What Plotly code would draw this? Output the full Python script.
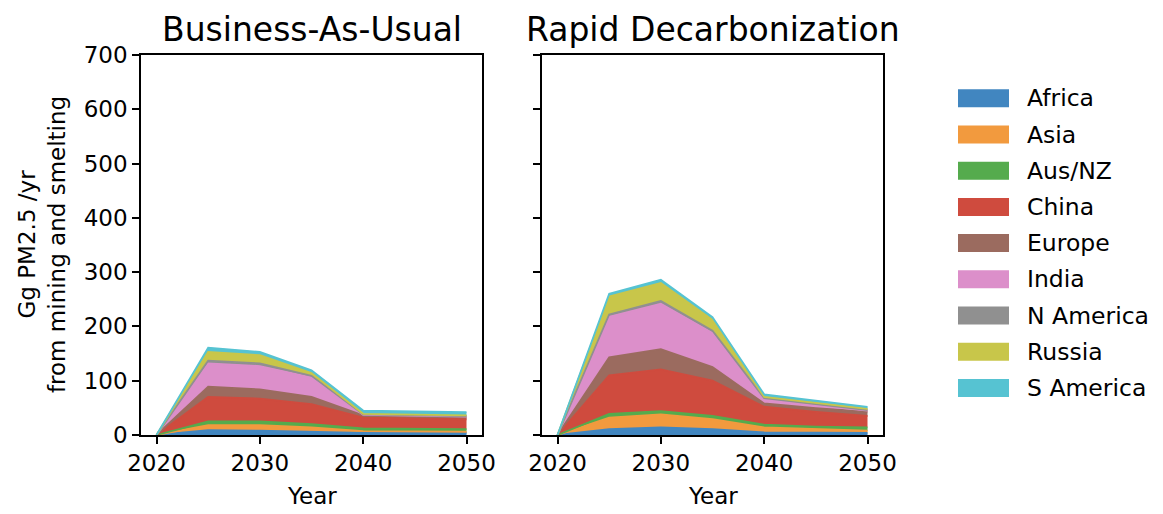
import plotly.graph_objects as go

years = [2020, 2025, 2030, 2035, 2040, 2045, 2050]
regions = ["Africa", "Asia", "Aus/NZ", "China", "Europe", "India", "N America", "Russia", "S America"]
# colours as seen in the reference (tab10, slightly translucent)
region_colors = ["#4186c0", "#f29a3e", "#55ab4d", "#cf4b3e", "#9b6b5f", "#dc8fca", "#909090", "#c8c64a", "#56c3d2"]

bau = {
    "Africa":    [0, 9, 8, 6, 4, 4, 4],
    "Asia":      [0, 9, 10, 8, 3, 2.5, 2],
    "Aus/NZ":    [0, 7, 7, 6, 5, 5, 5],
    "China":     [0, 45, 42, 37, 20, 19.5, 18],
    "Europe":    [0, 19, 17, 13, 4, 3, 3.5],
    "India":     [0, 43, 43, 36, 1, 1.5, 1.5],
    "N America": [0, 5, 5, 3, 1, 1, 1],
    "Russia":    [0, 16, 15, 5, 1, 1, 1],
    "S America": [0, 8, 6, 5, 6, 6.5, 6],
}
rapid = {
    "Africa":    [0, 11, 14, 11, 5, 4.5, 4],
    "Asia":      [0, 21, 24, 18, 9, 6, 4],
    "Aus/NZ":    [0, 7, 6, 6, 5, 5, 6],
    "China":     [0, 71, 77, 65, 33, 27, 21],
    "Europe":    [0, 33, 37, 25, 6, 7, 8],
    "India":     [0, 75, 84, 63, 8, 5, 2],
    "N America": [0, 4, 5, 4, 2, 2, 1],
    "Russia":    [0, 33, 33, 20, 2, 2, 2],
    "S America": [0, 5, 6, 5, 5, 5, 4],
}
titles = ["Business-As-Usual", "Rapid Decarbonization"]
y_ticks = [0, 100, 200, 300, 400, 500, 600, 700]
x_ticks = [2020, 2030, 2040, 2050]

W, H = 1163, 514
OFF = 8  # default page body margin


def PX(x):
    return (x - OFF) / W


def PY(y):
    return 1 - (y - OFF) / H


FONT = "DejaVu Sans"
TICK = 23
fig = go.Figure()

for i, (data, grp) in enumerate([(bau, "bau"), (rapid, "rd")]):
    ax = "" if i == 0 else "2"
    for reg, col in zip(regions, region_colors):
        fig.add_trace(go.Scatter(
            x=years, y=data[reg], stackgroup=grp, mode="lines",
            line=dict(color=col, width=1.8),
            fillcolor=col, name=reg, showlegend=False,
            xaxis="x" + ax, yaxis="y" + ax,
        ))

px_l1, px_r1 = 141, 482
px_l2, px_r2 = 542, 883
py_t, py_b = 55, 435
dom_y = [PY(py_b), PY(py_t)]

axis_common = dict(
    showline=True, linecolor="black", linewidth=1.5, mirror=True,
    ticks="outside", ticklen=7, tickwidth=1.5, tickcolor="black",
    showgrid=False, zeroline=False, automargin=False,
    tickfont=dict(family=FONT, size=TICK, color="black"),
)

fig.update_layout(
    width=W, height=H, autosize=False,
    margin=dict(l=0, r=0, t=0, b=0),
    paper_bgcolor="white", plot_bgcolor="white",
    font=dict(family=FONT, color="black"),
    xaxis=dict(domain=[PX(px_l1), PX(px_r1)], range=[2018.5, 2051.5], tickvals=x_ticks, anchor="y", **axis_common),
    yaxis=dict(domain=dom_y, range=[0, 700], tickvals=y_ticks, anchor="x", **axis_common),
    xaxis2=dict(domain=[PX(px_l2), PX(px_r2)], range=[2018.5, 2051.5], tickvals=x_ticks, anchor="y2", **axis_common),
    yaxis2=dict(domain=dom_y, range=[0, 700], tickvals=y_ticks, anchor="x2", showticklabels=False, **axis_common),
)

annotations = []
for (l, r), t in zip([(px_l1, px_r1), (px_l2, px_r2)], titles):
    annotations.append(dict(x=PX((l + r) / 2), y=PY(30), xref="paper", yref="paper",
                            text=t, showarrow=False, font=dict(family=FONT, size=33, color="black"),
                            xanchor="center", yanchor="middle"))
    annotations.append(dict(x=PX((l + r) / 2), y=PY(496), xref="paper", yref="paper",
                            text="Year", showarrow=False, font=dict(family=FONT, size=TICK, color="black"),
                            xanchor="center", yanchor="middle"))
annotations.append(dict(x=PX(42), y=PY(245), xref="paper", yref="paper",
                        text="Gg PM2.5 /yr<br>from mining and smelting", textangle=-90,
                        showarrow=False, font=dict(family=FONT, size=TICK, color="black"),
                        xanchor="center", yanchor="middle"))

shapes = []
leg_top, leg_step = 98.3, 36.2
for k, (reg, col) in enumerate(zip(regions, region_colors)):
    cy = leg_top + k * leg_step
    shapes.append(dict(type="rect", xref="paper", yref="paper",
                       x0=PX(958), x1=PX(1009), y0=PY(cy + 9), y1=PY(cy - 9),
                       fillcolor=col, line=dict(width=0)))
    annotations.append(dict(x=PX(1025), y=PY(cy), xref="paper", yref="paper", text=reg,
                            showarrow=False, xanchor="left", yanchor="middle",
                            font=dict(family=FONT, size=23.5, color="black")))

fig.update_layout(annotations=annotations, shapes=shapes)
fig.write_html("out.html")
